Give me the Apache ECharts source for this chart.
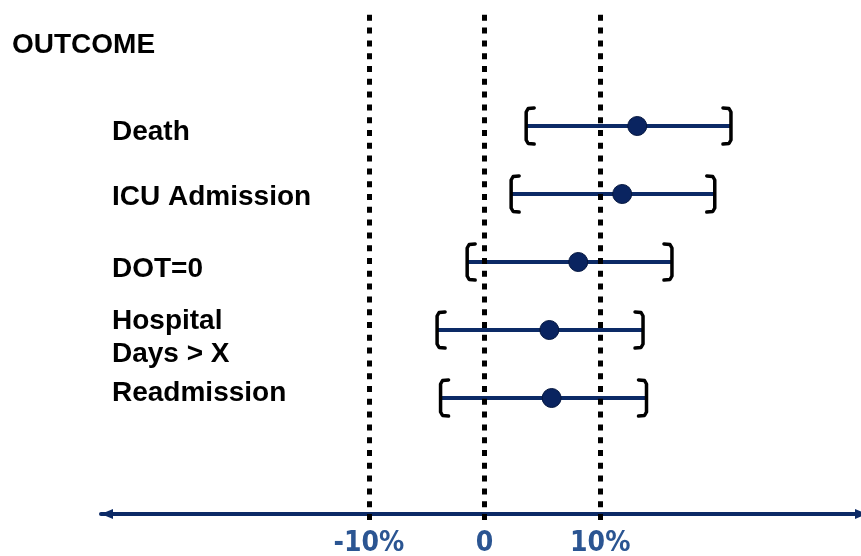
<!DOCTYPE html>
<html>
<head>
<meta charset="utf-8">
<script src="https://cdn.jsdelivr.net/npm/echarts@6/dist/echarts.min.js"></script>
<style>html,body{margin:0;padding:0;background:#fff}#c{width:861px;height:556px}</style>
</head>
<body>
<div id="c"></div>
<script>
// ---- data ----
const categories = ['Death', 'ICU Admission', 'DOT=0', 'Hospital\nDays > X', 'Readmission'];
const lowValues  = [3.6, 2.3, -1.5, -4.1, -3.8];
const midValues  = [13.2, 11.9, 8.1, 5.6, 5.8];
const highValues = [21.3, 19.9, 16.2, 13.7, 14.0];
const tickValues = [-10, 0, 10];
const tickLabels = ['-10%', '0', '10%'];
const refLines   = [-10, 0, 10];

// ---- style ----
const NAVY = '#0c2a66';
const X_MIN = -33.15, X_MAX = 32.54;
const LABEL_FONT = 'Liberation Sans, Arial, sans-serif';
const labelPads = [[13, 0, 0, 0], [7, 0, 0, 0], [14, 0, 0, 0], [15, 0, 0, 0], [0, 0, 9, 0]];

const rich = {};
labelPads.forEach((p, i) => {
  rich['r' + i] = {fontFamily: LABEL_FONT, fontWeight: 'bold', fontSize: 28, lineHeight: 33, color: '#000', padding: p};
});

const chart = echarts.init(document.getElementById('c'), null, {renderer: 'canvas'});

const rows = categories.map((c, i) => [i, lowValues[i], midValues[i], highValues[i]]);

function renderItem(params, api) {
  const cat = api.value(0);
  const pl = api.coord([api.value(1), cat]);
  const pm = api.coord([api.value(2), cat]);
  const ph = api.coord([api.value(3), cat]);
  const y = pl[1];
  const xl = pl[0], xh = ph[0];
  const br = {stroke: '#000', lineWidth: 3.5, fill: 'none', lineJoin: 'round', lineCap: 'round'};
  return {
    type: 'group',
    children: [
      {type: 'line', shape: {x1: xl, y1: y, x2: xh, y2: y}, style: {stroke: NAVY, lineWidth: 4}},
      {type: 'polyline', shape: {points: [[xl + 8, y - 18], [xl + 2, y - 17.5], [xl, y - 14], [xl, y + 14], [xl + 2, y + 17.5], [xl + 8, y + 18]]}, style: br},
      {type: 'polyline', shape: {points: [[xh - 8, y - 18], [xh - 2, y - 17.5], [xh, y - 14], [xh, y + 14], [xh - 2, y + 17.5], [xh - 8, y + 18]]}, style: br},
      {type: 'circle', shape: {cx: pm[0], cy: y, r: 9.5}, style: {fill: '#0a2460', stroke: '#05173f', lineWidth: 1}}
    ]
  };
}

chart.setOption({
  animation: false,
  backgroundColor: '#fff',
  title: {
    text: 'OUTCOME', left: 12, top: 31.5, padding: 0,
    textStyle: {fontFamily: LABEL_FONT, fontWeight: 'bold', fontSize: 28, color: '#000'}
  },
  grid: [
    {left: 101, right: 0, top: 13, bottom: 36, outerBoundsMode: 'none', containLabel: false},
    {left: 101, right: 0, top: 92, bottom: 124, outerBoundsMode: 'none', containLabel: false}
  ],
  xAxis: [
    {
      gridIndex: 0, type: 'value', min: X_MIN, max: X_MAX, offset: -6,
      axisLine: {show: true, symbol: ['triangle', 'triangle'], symbolSize: [10, 12], symbolOffset: [6, 0],
                 lineStyle: {color: NAVY, width: 4}},
      axisTick: {show: false},
      splitLine: {show: false},
      axisLabel: {
        customValues: tickValues,
        formatter: v => tickLabels[tickValues.indexOf(v)],
        margin: 30, verticalAlign: 'middle',
        fontFamily: 'Liberation Sans Narrow, DejaVu Sans Condensed, Arial Narrow, sans-serif',
        fontWeight: 'bold', fontSize: 28, color: '#2b5592'
      }
    },
    {gridIndex: 1, type: 'value', min: X_MIN, max: X_MAX, show: false}
  ],
  yAxis: [
    {gridIndex: 0, type: 'value', min: 0, max: 1, show: false},
    {
      gridIndex: 1, type: 'category', data: categories, inverse: true,
      axisLine: {show: false}, axisTick: {show: false}, splitLine: {show: false},
      axisLabel: {
        align: 'left', margin: -11,
        formatter: (val, idx) => '{r' + idx + '|' + val + '}',
        rich: rich
      }
    }
  ],
  series: [
    {
      type: 'custom', xAxisIndex: 1, yAxisIndex: 1, renderItem: renderItem,
      data: rows, z: 2, silent: true
    },
    {
      type: 'line', xAxisIndex: 0, yAxisIndex: 0, data: [], silent: true, z: 5,
      markLine: {
        silent: true, symbol: ['none', 'none'], label: {show: false},
        lineStyle: {color: '#000', width: 5, type: [6, 6.8], cap: 'butt'},
        data: refLines.map(v => ({xAxis: v}))
      }
    }
  ]
});
</script>
</body>
</html>
